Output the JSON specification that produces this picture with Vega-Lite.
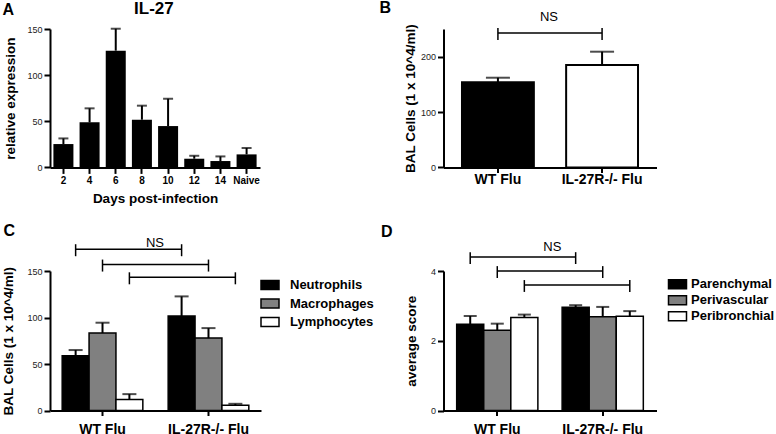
{
  "$schema": "https://vega.github.io/schema/vega-lite/v6.json",
  "padding": {"left": 1, "top": -1, "right": 0, "bottom": 0},
  "config": {
    "font": "Liberation Sans",
    "view": {"stroke": null},
    "axis": {"domainColor": "black", "domainWidth": 2, "tickColor": "black", "tickWidth": 2, "grid": false, "labelColor": "#222", "titleColor": "black", "labelFont": "Liberation Sans", "titleFont": "Liberation Sans"},
    "title": {"font": "Liberation Sans", "fontSize": 16, "fontWeight": "bold", "anchor": "start", "frame": "bounds", "color": "black"}
  },
  "columns": 2,
  "bounds": "flush",
  "spacing": {"row": 103, "column": 182.5},
  "resolve": {"scale": {"fill": "independent", "xOffset": "independent", "x": "independent", "y": "independent"}, "legend": {"fill": "independent"}},
  "datasets": {
    "il27": [
      {"day": "2", "value": 25.3, "upper": 31.4},
      {"day": "4", "value": 48.8, "upper": 64},
      {"day": "6", "value": 126.5, "upper": 150.3},
      {"day": "8", "value": 51.7, "upper": 66.9},
      {"day": "10", "value": 44.8, "upper": 74.4},
      {"day": "12", "value": 9.4, "upper": 12.6},
      {"day": "14", "value": 6.9, "upper": 11.9},
      {"day": "Naive", "value": 14.1, "upper": 21}
    ],
    "bal": [
      {"group": "WT Flu", "value": 154, "upper": 162},
      {"group": "IL-27R-/- Flu", "value": 185, "upper": 209}
    ],
    "balBracket": [
      {"group": "WT Flu", "line": 243, "top": 252, "bottom": 230},
      {"group": "IL-27R-/- Flu", "line": 243, "top": 252, "bottom": 230}
    ],
    "cells": [
      {"group": "WT Flu", "type": "Neutrophils", "value": 58.9, "upper": 65},
      {"group": "WT Flu", "type": "Macrophages", "value": 83.3, "upper": 94.4},
      {"group": "WT Flu", "type": "Lymphocytes", "value": 11.8, "upper": 17.6},
      {"group": "IL-27R-/- Flu", "type": "Neutrophils", "value": 101.6, "upper": 122.7},
      {"group": "IL-27R-/- Flu", "type": "Macrophages", "value": 77.9, "upper": 88.6},
      {"group": "IL-27R-/- Flu", "type": "Lymphocytes", "value": 5.7, "upper": 7.2}
    ],
    "cellsBracket": [
      {"group": "WT Flu", "type": "Neutrophils", "line": 173.4, "top": 178.8, "bottom": 165.9},
      {"group": "IL-27R-/- Flu", "type": "Neutrophils", "line": 173.4, "top": 178.8, "bottom": 165.9},
      {"group": "WT Flu", "type": "Macrophages", "line": 156.9, "top": 162.3, "bottom": 149.4},
      {"group": "IL-27R-/- Flu", "type": "Macrophages", "line": 156.9, "top": 162.3, "bottom": 149.4},
      {"group": "WT Flu", "type": "Lymphocytes", "line": 143.2, "top": 148.6, "bottom": 135.7},
      {"group": "IL-27R-/- Flu", "type": "Lymphocytes", "line": 143.2, "top": 148.6, "bottom": 135.7}
    ],
    "score": [
      {"group": "WT Flu", "region": "Parenchymal", "value": 2.47, "upper": 2.71},
      {"group": "WT Flu", "region": "Perivascular", "value": 2.3, "upper": 2.49},
      {"group": "WT Flu", "region": "Peribronchial", "value": 2.67, "upper": 2.75},
      {"group": "IL-27R-/- Flu", "region": "Parenchymal", "value": 2.96, "upper": 3.02},
      {"group": "IL-27R-/- Flu", "region": "Perivascular", "value": 2.69, "upper": 2.97},
      {"group": "IL-27R-/- Flu", "region": "Peribronchial", "value": 2.7, "upper": 2.85}
    ],
    "scoreBracket": [
      {"group": "WT Flu", "region": "Parenchymal", "line": 4.4, "top": 4.54, "bottom": 4.2},
      {"group": "IL-27R-/- Flu", "region": "Parenchymal", "line": 4.4, "top": 4.54, "bottom": 4.2},
      {"group": "WT Flu", "region": "Perivascular", "line": 4.0, "top": 4.14, "bottom": 3.8},
      {"group": "IL-27R-/- Flu", "region": "Perivascular", "line": 4.0, "top": 4.14, "bottom": 3.8},
      {"group": "WT Flu", "region": "Peribronchial", "line": 3.6, "top": 3.74, "bottom": 3.4},
      {"group": "IL-27R-/- Flu", "region": "Peribronchial", "line": 3.6, "top": 3.74, "bottom": 3.4}
    ]
  },
  "concat": [
    {
      "width": 210,
      "height": 138.4,
      "title": {"text": "A", "offset": -18.5, "dx": -1.5},
      "data": {"name": "il27"},
      "encoding": {
        "x": {"field": "day", "type": "nominal", "sort": null,
          "scale": {"paddingInner": 0.235, "paddingOuter": 0.13},
          "axis": {"title": "Days post-infection", "labelAngle": 0, "labelFontSize": 10, "labelFontWeight": "bold", "labelColor": "black", "tickSize": 6, "labelPadding": 2.3, "titleFontSize": 13.5, "titleFontWeight": "bold", "titlePadding": 5.5}}
      },
      "layer": [
        {"mark": {"type": "bar", "color": "black"},
          "encoding": {"y": {"field": "value", "type": "quantitative", "scale": {"domain": [0, 150], "nice": false},
            "axis": {"title": "relative expression", "values": [0, 50, 100, 150], "labelFontSize": 9, "tickSize": 6, "labelPadding": 2, "titleFontSize": 13.5, "titleFontWeight": "bold", "titlePadding": 9}}}},
        {"mark": {"type": "rule", "color": "black", "strokeWidth": 2},
          "encoding": {"y": {"field": "value", "type": "quantitative", "title": "relative expression"}, "y2": {"field": "upper"}}},
        {"mark": {"type": "tick", "color": "black", "thickness": 2, "size": 10},
          "encoding": {"y": {"field": "upper", "type": "quantitative", "title": "relative expression"}}},
        {"data": {"values": [{"label": "IL-27", "day": "8"}]},
          "mark": {"type": "text", "dx": 12, "fontSize": 17, "fontWeight": "bold", "baseline": "middle", "align": "center", "color": "black"},
          "encoding": {"text": {"field": "label"}, "y": {"datum": 172, "type": "quantitative"}}}
      ]
    },
    {
      "width": 213,
      "height": 138.4,
      "title": {"text": "B", "offset": -4.5, "dx": -24},
      "encoding": {
        "x": {"field": "group", "type": "nominal", "sort": ["WT Flu", "IL-27R-/- Flu"],
          "scale": {"paddingInner": 0.31, "paddingOuter": 0.1775},
          "axis": {"title": null, "labelAngle": 0, "labelFontSize": 14, "labelFontWeight": "bold", "labelColor": "black", "tickSize": 5, "labelPadding": 0}}
      },
      "layer": [
        {"data": {"name": "bal"},
          "mark": {"type": "bar", "stroke": "black", "strokeWidth": 2},
          "encoding": {
            "y": {"field": "value", "type": "quantitative", "scale": {"domain": [0, 250], "nice": false},
              "axis": {"title": "BAL Cells (1 x 10^4/ml)", "values": [0, 50, 100, 150, 200, 250], "labelFontSize": 9, "tickSize": 6, "labelPadding": 2, "titleFontSize": 13.5, "titleFontWeight": "bold", "titlePadding": 3}},
            "fill": {"field": "group", "type": "nominal", "scale": {"domain": ["WT Flu", "IL-27R-/- Flu"], "range": ["black", "white"]}, "legend": null}}},
        {"data": {"name": "bal"},
          "mark": {"type": "rule", "color": "black", "strokeWidth": 2},
          "encoding": {"y": {"field": "value", "type": "quantitative", "title": "BAL Cells (1 x 10^4/ml)"}, "y2": {"field": "upper"}}},
        {"data": {"name": "bal"},
          "mark": {"type": "tick", "color": "black", "thickness": 2, "size": 24},
          "encoding": {"y": {"field": "upper", "type": "quantitative", "title": "BAL Cells (1 x 10^4/ml)"}}},
        {"data": {"name": "balBracket"},
          "mark": {"type": "line", "color": "black", "strokeWidth": 1.5},
          "encoding": {"y": {"field": "line", "type": "quantitative", "title": "BAL Cells (1 x 10^4/ml)"}}},
        {"data": {"name": "balBracket"},
          "mark": {"type": "rule", "color": "black", "strokeWidth": 1.5},
          "encoding": {"y": {"field": "top", "type": "quantitative", "title": "BAL Cells (1 x 10^4/ml)"}, "y2": {"field": "bottom"}}},
        {"data": {"values": [{"label": "NS", "group": "WT Flu"}]},
          "mark": {"type": "text", "dx": 51, "fontSize": 13, "baseline": "middle", "align": "center", "color": "black"},
          "encoding": {"text": {"field": "label"}, "y": {"datum": 271, "type": "quantitative"}}}
      ]
    },
    {
      "width": 211,
      "height": 139.5,
      "title": {"text": "C", "offset": -2, "dx": 1.5},
      "encoding": {
        "x": {"field": "group", "type": "nominal", "sort": ["WT Flu", "IL-27R-/- Flu"],
          "scale": {"paddingInner": 0.239, "paddingOuter": 0.115},
          "axis": {"title": null, "labelAngle": 0, "labelFontSize": 14, "labelFontWeight": "bold", "labelColor": "black", "tickSize": 5, "labelPadding": 7}}
      },
      "layer": [
        {"data": {"name": "cells"},
          "mark": {"type": "bar", "stroke": "black", "strokeWidth": 1.5},
          "encoding": {
            "xOffset": {"field": "type", "type": "nominal", "sort": ["Neutrophils", "Macrophages", "Lymphocytes"], "scale": {"paddingInner": 0, "paddingOuter": 0}},
            "y": {"field": "value", "type": "quantitative", "scale": {"domain": [0, 150], "nice": false},
              "axis": {"title": "BAL Cells (1 x 10^4/ml)", "values": [0, 50, 100, 150], "labelFontSize": 9, "tickSize": 6, "labelPadding": 2, "titleFontSize": 13.5, "titleFontWeight": "bold", "titlePadding": 11}},
            "fill": {"field": "type", "type": "nominal", "sort": ["Neutrophils", "Macrophages", "Lymphocytes"],
              "scale": {"domain": ["Neutrophils", "Macrophages", "Lymphocytes"], "range": ["black", "#808080", "white"]},
              "legend": {"title": null, "orient": "none", "legendX": 210, "legendY": 4, "padding": 0, "symbolType": "M-1,-0.5H1V0.5H-1Z", "symbolSize": 324, "symbolStrokeColor": "black", "symbolStrokeWidth": 1.5, "symbolOpacity": 1, "labelFontSize": 13, "labelFontWeight": "bold", "labelColor": "black", "labelOffset": 10, "rowPadding": 0.5}}}},
        {"data": {"name": "cells"},
          "mark": {"type": "rule", "color": "black", "strokeWidth": 2},
          "encoding": {"xOffset": {"field": "type", "type": "nominal", "sort": ["Neutrophils", "Macrophages", "Lymphocytes"]}, "y": {"field": "value", "type": "quantitative", "title": "BAL Cells (1 x 10^4/ml)"}, "y2": {"field": "upper"}}},
        {"data": {"name": "cells"},
          "mark": {"type": "tick", "color": "black", "thickness": 2, "size": 14},
          "encoding": {"xOffset": {"field": "type", "type": "nominal", "sort": ["Neutrophils", "Macrophages", "Lymphocytes"]}, "y": {"field": "upper", "type": "quantitative", "title": "BAL Cells (1 x 10^4/ml)"}}},
        {"data": {"name": "cellsBracket"},
          "mark": {"type": "line", "color": "black", "strokeWidth": 1.5},
          "encoding": {"xOffset": {"field": "type", "type": "nominal", "sort": ["Neutrophils", "Macrophages", "Lymphocytes"]}, "y": {"field": "line", "type": "quantitative", "title": "BAL Cells (1 x 10^4/ml)"}, "detail": {"field": "type"}}},
        {"data": {"name": "cellsBracket"},
          "mark": {"type": "rule", "color": "black", "strokeWidth": 1.5},
          "encoding": {"xOffset": {"field": "type", "type": "nominal", "sort": ["Neutrophils", "Macrophages", "Lymphocytes"]}, "y": {"field": "top", "type": "quantitative", "title": "BAL Cells (1 x 10^4/ml)"}, "y2": {"field": "bottom"}}},
        {"data": {"values": [{"label": "NS", "group": "WT Flu"}]},
          "mark": {"type": "text", "dx": 52.5, "fontSize": 13, "baseline": "middle", "align": "center", "color": "black"},
          "encoding": {"text": {"field": "label"}, "y": {"datum": 180.4, "type": "quantitative"}}}
      ]
    },
    {
      "width": 213,
      "height": 139.5,
      "title": {"text": "D", "offset": 1.5, "dx": -24},
      "encoding": {
        "x": {"field": "group", "type": "nominal", "sort": ["WT Flu", "IL-27R-/- Flu"],
          "scale": {"paddingInner": 0.23, "paddingOuter": 0.125},
          "axis": {"title": null, "labelAngle": 0, "labelFontSize": 14, "labelFontWeight": "bold", "labelColor": "black", "tickSize": 5, "labelPadding": 7}}
      },
      "layer": [
        {"data": {"name": "score"},
          "mark": {"type": "bar", "stroke": "black", "strokeWidth": 1.5},
          "encoding": {
            "xOffset": {"field": "region", "type": "nominal", "sort": ["Parenchymal", "Perivascular", "Peribronchial"], "scale": {"paddingInner": 0, "paddingOuter": 0}},
            "y": {"field": "value", "type": "quantitative", "scale": {"domain": [0, 4], "nice": false},
              "axis": {"title": "average score", "values": [0, 1, 2, 3, 4], "labelFontSize": 9, "tickSize": 6, "labelPadding": 2, "titleFontSize": 13.5, "titleFontWeight": "bold", "titlePadding": 11.5}},
            "fill": {"field": "region", "type": "nominal", "sort": ["Parenchymal", "Perivascular", "Peribronchial"],
              "scale": {"domain": ["Parenchymal", "Perivascular", "Peribronchial"], "range": ["black", "#808080", "white"]},
              "legend": {"title": null, "orient": "none", "legendX": 225.5, "legendY": 4.8, "padding": 0, "symbolType": "M-1.2,-0.6H1.2V0.6H-1.2Z", "symbolSize": 225, "symbolStrokeColor": "black", "symbolStrokeWidth": 1.5, "symbolOpacity": 1, "labelFontSize": 13, "labelFontWeight": "bold", "labelColor": "black", "labelOffset": 5, "rowPadding": 0}}}},
        {"data": {"name": "score"},
          "mark": {"type": "rule", "color": "black", "strokeWidth": 2},
          "encoding": {"xOffset": {"field": "region", "type": "nominal", "sort": ["Parenchymal", "Perivascular", "Peribronchial"]}, "y": {"field": "value", "type": "quantitative", "title": "average score"}, "y2": {"field": "upper"}}},
        {"data": {"name": "score"},
          "mark": {"type": "tick", "color": "black", "thickness": 2, "size": 13},
          "encoding": {"xOffset": {"field": "region", "type": "nominal", "sort": ["Parenchymal", "Perivascular", "Peribronchial"]}, "y": {"field": "upper", "type": "quantitative", "title": "average score"}}},
        {"data": {"name": "scoreBracket"},
          "mark": {"type": "line", "color": "black", "strokeWidth": 1.5},
          "encoding": {"xOffset": {"field": "region", "type": "nominal", "sort": ["Parenchymal", "Perivascular", "Peribronchial"]}, "y": {"field": "line", "type": "quantitative", "title": "average score"}, "detail": {"field": "region"}}},
        {"data": {"name": "scoreBracket"},
          "mark": {"type": "rule", "color": "black", "strokeWidth": 1.5},
          "encoding": {"xOffset": {"field": "region", "type": "nominal", "sort": ["Parenchymal", "Perivascular", "Peribronchial"]}, "y": {"field": "top", "type": "quantitative", "title": "average score"}, "y2": {"field": "bottom"}}},
        {"data": {"values": [{"label": "NS", "group": "WT Flu"}]},
          "mark": {"type": "text", "dx": 55, "fontSize": 13, "baseline": "middle", "align": "center", "color": "black"},
          "encoding": {"text": {"field": "label"}, "y": {"datum": 4.686, "type": "quantitative"}}}
      ]
    }
  ]
}
